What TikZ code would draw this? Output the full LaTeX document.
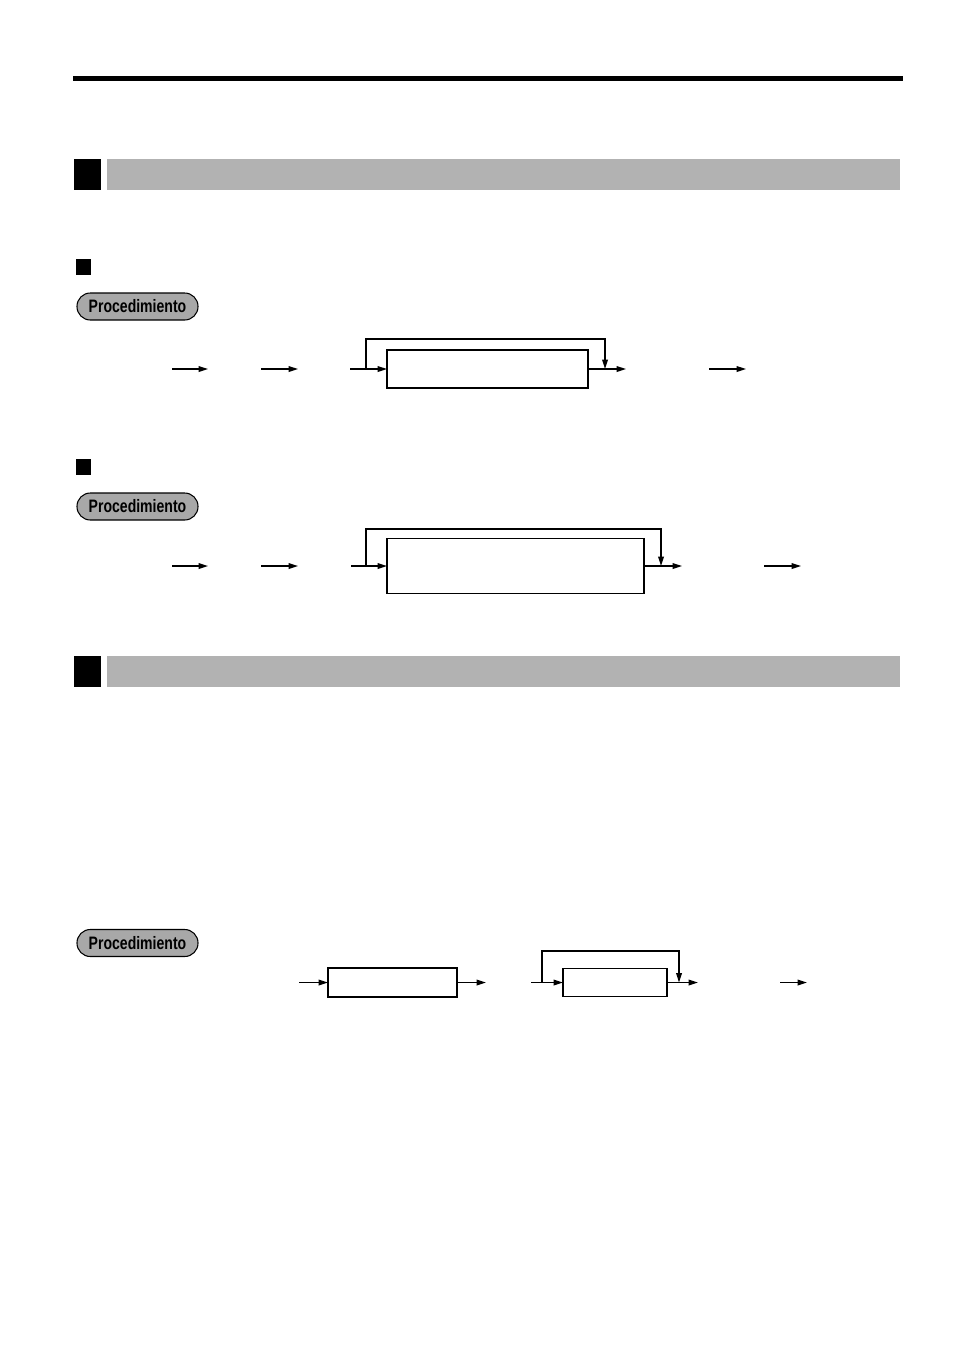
\documentclass[tikz,border=0pt]{standalone}
\usepackage{fontspec}
\setsansfont{Liberation Sans}
\usepackage{xcolor}
\usepackage{tikz}
\usetikzlibrary{arrows.meta, positioning}

\definecolor{bargray}{RGB}{178,178,178}
\definecolor{pillgray}{RGB}{168,168,168}

\begin{document}
\begin{tikzpicture}[
    x=0.75pt, y=-0.75pt,
    flowbox/.style={rectangle, draw, line width=1.1pt, inner sep=0pt, outer sep=0pt},
    pill/.style={rectangle, draw, fill=pillgray, line width=0.8pt, rounded corners=10pt, minimum width=90.75pt, minimum height=20.25pt, inner sep=0pt, font=\sffamily\bfseries\fontsize{13.5}{15}\selectfont},
    line/.style={draw, line width=1.1pt, -{Triangle[length=7pt,width=4.2pt]}},
    loopline/.style={draw, line width=1.1pt}
]
\useasboundingbox (0,0) rectangle (954,1349);

% Page rule and section headers
\fill[black] (73,76) rectangle (903,81);
\fill[black] (74,159) rectangle (101,190);
\fill[bargray] (107,159) rectangle (900,190);
\fill[black] (74,656) rectangle (101,687);
\fill[bargray] (107,656) rectangle (900,687);

% Sub-section marks
\fill[black] (76,259) rectangle (91,275);
\fill[black] (76,459) rectangle (91,475);

% Procedure tags
\node[pill] (proc1) at (137.5,306.5) {\scalebox{0.78}[1]{Procedimiento}};
\node[pill] (proc2) at (137.5,506.5) {\scalebox{0.78}[1]{Procedimiento}};
\node[pill] (proc3) at (137.5,943) {\scalebox{0.78}[1]{Procedimiento}};

% First procedure
\node[flowbox, minimum width=150.75pt, minimum height=28.5pt] (boxA) at (487.5,369) {};
\coordinate (a1s) at (172,369);
\coordinate (a1e) at (208,369);
\coordinate (a2s) at (261,369);
\coordinate (a2e) at (298,369);
\coordinate (a3s) at (350,369);
\coordinate (aloop) at (366,369);
\coordinate (ajoin) at (605,369);
\coordinate (aout) at (626,369);
\coordinate (a5s) at (709,369);
\coordinate (a5e) at (746,369);
\draw[line] (a1s) -- (a1e);
\draw[line] (a2s) -- (a2e);
\draw[line] (a3s) -- (boxA.west);
\draw[line] (aloop) -- ++(0,-30) -| (ajoin);
\draw[line] (boxA.east) -- (aout);
\draw[line] (a5s) -- (a5e);

% Second procedure
\node[flowbox, minimum width=192.75pt, minimum height=41.25pt] (boxB) at (515.5,566) {};
\coordinate (b1s) at (172,566);
\coordinate (b1e) at (208,566);
\coordinate (b2s) at (261,566);
\coordinate (b2e) at (298,566);
\coordinate (b3s) at (351,566);
\coordinate (bloop) at (366,566);
\coordinate (bjoin) at (661,566);
\coordinate (bout) at (682,566);
\coordinate (b5s) at (764,566);
\coordinate (b5e) at (801,566);
\draw[line] (b1s) -- (b1e);
\draw[line] (b2s) -- (b2e);
\draw[line] (b3s) -- (boxB.west);
\draw[line] (bloop) -- ++(0,-37) -| (bjoin);
\draw[line] (boxB.east) -- (bout);
\draw[line] (b5s) -- (b5e);

% Third procedure
\node[flowbox, minimum width=96.75pt, minimum height=21.75pt] (boxC) at (392.5,982.5) {};
\node[flowbox, minimum width=78pt, minimum height=21pt] (boxD) at (615,982.5) {};
\coordinate (c1s) at (299,982.5);
\coordinate (c2e) at (486,982.5);
\coordinate (c3s) at (531,982.5);
\coordinate (cloop) at (542,982.5);
\coordinate (cjoin) at (679,982.5);
\coordinate (cout) at (698,982.5);
\coordinate (c5s) at (780,982.5);
\coordinate (c5e) at (807,982.5);
\draw[line] (c1s) -- (boxC.west);
\draw[line] (boxC.east) -- (c2e);
\draw[line] (c3s) -- (boxD.west);
\draw[line] (cloop) -- ++(0,-31.5) -| (cjoin);
\draw[line] (boxD.east) -- (cout);
\draw[line] (c5s) -- (c5e);

\end{tikzpicture}
\end{document}
